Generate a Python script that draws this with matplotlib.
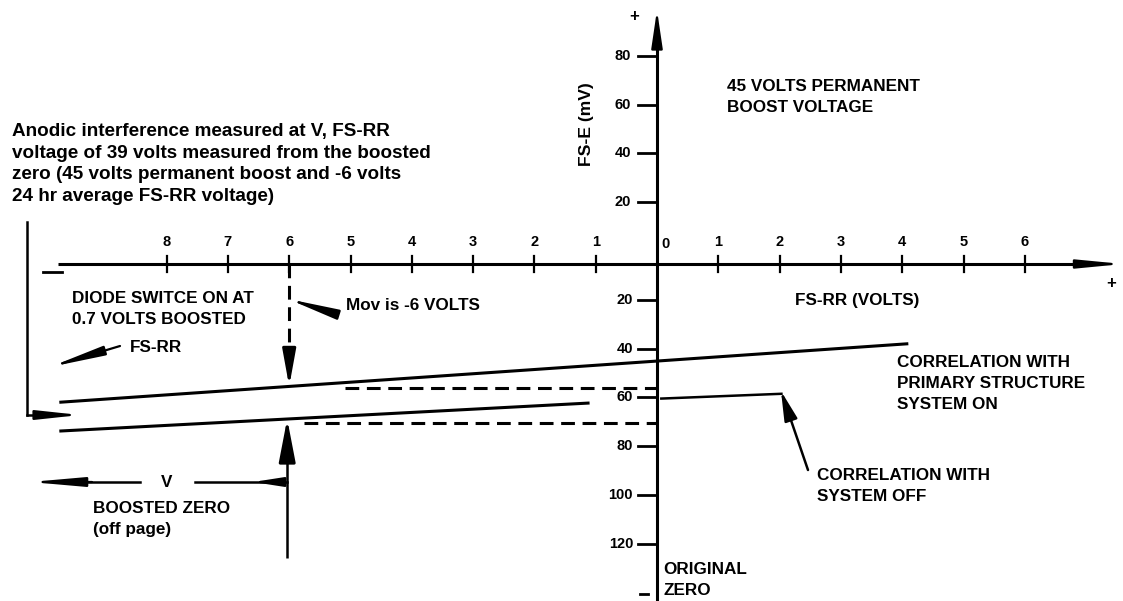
import matplotlib
matplotlib.use("Agg")
import matplotlib.pyplot as plt
import numpy as np

# ---------------- data ----------------
neg_ticks = [1, 2, 3, 4, 5, 6, 7, 8]          # FS-RR volts left of zero (shown as magnitude)
pos_ticks = [1, 2, 3, 4, 5, 6]                # FS-RR volts right of zero
y_up_ticks = [20, 40, 60, 80]                 # FS-E mV above axis
y_down_ticks = [20, 40, 60, 80, 100, 120]     # FS-E mV below axis

on_v = [-9.75, 4.1]        # correlation with primary structure system on
on_mv = [-62.0, -38.0]
low_v = [-9.75, -1.1]      # lower (boosted) line
low_mv = [-73.8, -62.3]
off_v = [0.05, 2.05]       # correlation with system off
off_mv = [-60.5, -58.5]
mov_v = -6.0               # Mov
dash_on_mv = -56.3
dash_low_mv = -70.5

# ---------------- layout ----------------
W, H, DPI = 1123, 601, 100
PXV, PXMV = 61.3, 2.44
X0, Y0 = 657, 251

def P(px, py):
    return ((px - X0) / PXV, (Y0 - py) / PXMV)

def dx(px):
    return px / PXV

def dy(px):
    return px / PXMV

FONT = ['Liberation Sans', 'DejaVu Sans']
plt.rcParams['font.family'] = FONT

fig = plt.figure(figsize=(W / DPI, H / DPI), dpi=DPI)
ax = fig.add_axes([0, 0, 1, 1])
ax.set_xlim((0 - X0) / PXV, (W - X0) / PXV)
ax.set_ylim((Y0 - H) / PXMV, Y0 / PXMV)
ax.axis('off')

LW = 2.2
K = 'black'
CAP = 12.3
TICK = 10.5

def txt(px, py, s, size=CAP, ha='left', va='center', ls=1.45, **kw):
    x, y = P(px, py)
    ax.text(x, y, s, fontsize=size, fontweight='bold', ha=ha, va=va,
            color=K, linespacing=ls, **kw)

def arrow(tail, tip, lw=LW, hl=1.2, hw=0.22, ms=20):
    ax.annotate('', xy=tip, xytext=tail,
                arrowprops=dict(arrowstyle=f'-|>,head_length={hl},head_width={hw}',
                                lw=lw, color=K, shrinkA=0, shrinkB=0,
                                mutation_scale=ms))

# ---- x axis ----
axis_mv = P(0, 264)[1]
xl = ax.get_xlim()
ax.plot([P(58, 0)[0], xl[1] - dx(30)], [axis_mv, axis_mv], color=K, lw=LW, solid_capstyle='butt')
arrow((xl[1] - dx(34), axis_mv), (xl[1], axis_mv), hl=1.35, hw=0.13, lw=1.6)
for v in neg_ticks:
    ax.plot([-v, -v], [axis_mv - dy(8), axis_mv + dy(8)], color=K, lw=1.6)
    ax.text(-v, P(0, 242)[1], str(v), fontsize=TICK, fontweight='bold', ha='center', va='center')
for v in pos_ticks:
    ax.plot([v, v], [axis_mv - dy(8), axis_mv + dy(8)], color=K, lw=1.6)
    ax.text(v, P(0, 242)[1], str(v), fontsize=TICK, fontweight='bold', ha='center', va='center')
ax.text(dx(8), P(0, 244)[1], '0', fontsize=TICK, fontweight='bold', ha='center', va='center')

# ---- y axis ----
yl = ax.get_ylim()
ax.plot([0, 0], [yl[0], P(0, 30)[1]], color=K, lw=LW, solid_capstyle='butt')
arrow((0, P(0, 34)[1]), (0, P(0, 10)[1]), hl=1.15, hw=0.17, lw=1.6)
for m in y_up_ticks:
    ax.plot([-dx(19), 0], [m, m], color=K, lw=2.0)
    ax.text(-dx(26), m, str(m), fontsize=TICK, fontweight='bold', ha='right', va='center')
for m in y_down_ticks:
    ax.plot([-dx(19), 0], [-m, -m], color=K, lw=2.0)
    ax.text(-dx(24), -m, str(m), fontsize=TICK, fontweight='bold', ha='right', va='center')

# +/- signs
txt(634, 17, '+', size=12, ha='center')
txt(1111, 283, '+', size=12, ha='center')
ax.plot([P(43, 0)[0], P(62, 0)[0]], [P(0, 272)[1]] * 2, color=K, lw=2.0)
ax.plot([P(640, 0)[0], P(648, 0)[0]], [P(0, 594)[1]] * 2, color=K, lw=2.0)

# ---- data lines ----
ax.plot(on_v, on_mv, color=K, lw=LW, solid_capstyle='butt')
ax.plot(low_v, low_mv, color=K, lw=LW, solid_capstyle='butt')
ax.plot(off_v, off_mv, color=K, lw=1.8, solid_capstyle='butt')

on_at_mov = np.interp(mov_v, on_v, on_mv)
low_at_mov = np.interp(mov_v, low_v, low_mv)

ax.plot([mov_v + dx(56), 0], [dash_on_mv, dash_on_mv], color=K, lw=LW, ls=(0, (4.5, 2.5)))
ax.plot([mov_v + dx(15), 0], [dash_low_mv, dash_low_mv], color=K, lw=LW, ls=(0, (4.5, 2.5)))

# dashed vertical from axis down to the upper line
ax.plot([mov_v, mov_v], [axis_mv, on_at_mov + dy(22)], color=K, lw=LW, ls=(0, (4.5, 2.5)))
arrow((mov_v, on_at_mov + dy(24)), (mov_v, on_at_mov), hl=1.1, hw=0.2)

# solid vertical from boosted zero up to the lower line
v_solid = mov_v - dx(2)
ax.plot([v_solid, v_solid], [P(0, 558)[1], low_at_mov - dy(30)], color=K, lw=1.8, solid_capstyle='butt')
arrow((v_solid, low_at_mov - dy(34)), (v_solid, low_at_mov), hl=1.3, hw=0.25)

# V arrow
v_mv = P(0, 482)[1]
ax.plot([P(70, 0)[0], P(140, 0)[0]], [v_mv, v_mv], color=K, lw=1.8)
arrow((P(92, 0)[0], v_mv), (P(30, 0)[0], v_mv), hl=1.6, hw=0.14, lw=1.6)
ax.plot([P(195, 0)[0], v_solid], [v_mv, v_mv], color=K, lw=1.8)
arrow((P(273, 0)[0], v_mv), (P(253, 0)[0], v_mv), hl=0.9, hw=0.14, lw=1.6)
txt(167, 482, 'V', ha='center')

# left bracket
bx = P(27, 0)[0]
ax.plot([bx, bx], [P(0, 222)[1], P(0, 415)[1]], color=K, lw=1.8, solid_capstyle='projecting')
ax.plot([bx, P(55, 0)[0]], [P(0, 415)[1]] * 2, color=K, lw=1.8)
arrow(P(50, 415), P(80, 415), hl=1.3, hw=0.14, lw=1.6)

# FS-RR arrow
arrow(P(120, 346), P(50, 367), hl=1.6, hw=0.14, lw=1.6)
# Mov arrow
arrow(P(336, 314), P(288, 299), hl=1.5, hw=0.15, lw=1.6)
# system off arrow
arrow(P(808, 470), P(781, 391), hl=0.9, hw=0.2, lw=1.8)

# ---- text ----
txt(12, 164, 'Anodic interference measured at V, FS-RR\n'
             'voltage of 39 volts measured from the boosted\n'
             'zero (45 volts permanent boost and -6 volts\n'
             '24 hr average FS-RR voltage)', size=13.6, ls=1.34)
txt(727, 97, '45 VOLTS PERMANENT\nBOOST VOLTAGE')
txt(586, 124, 'FS-E (mV)', size=12.6, ha='center', rotation=90)
txt(72, 309, 'DIODE SWITCE ON AT\n0.7 VOLTS BOOSTED')
txt(130, 347, 'FS-RR')
txt(346, 305, 'Mov is -6 VOLTS')
txt(857, 300, 'FS-RR (VOLTS)', ha='center')
txt(897, 383, 'CORRELATION WITH\nPRIMARY STRUCTURE\nSYSTEM ON', ls=1.5)
txt(817, 486, 'CORRELATION WITH\nSYSTEM OFF')
txt(93, 519, 'BOOSTED ZERO\n(off page)')
txt(663, 580, 'ORIGINAL\nZERO')

fig.savefig('out.png', dpi=DPI)
